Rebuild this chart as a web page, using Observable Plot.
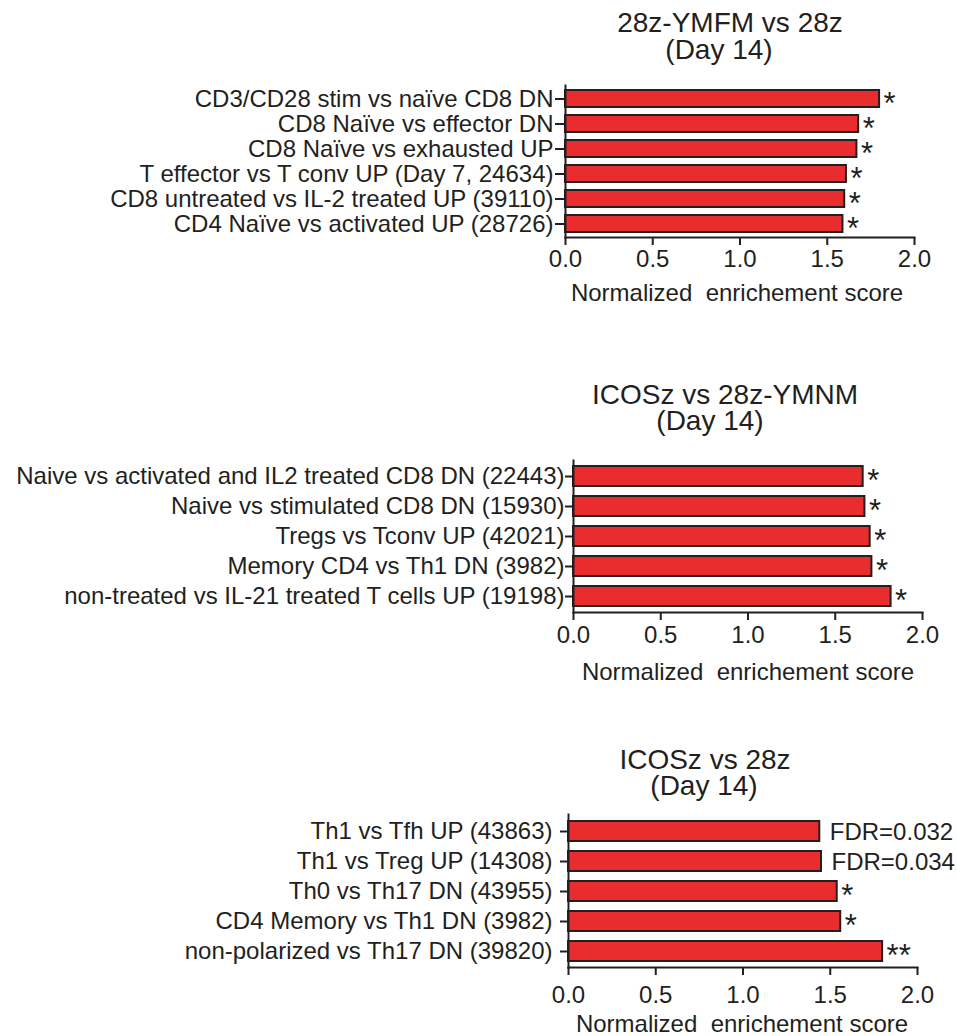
<!DOCTYPE html>
<html>
<head>
<meta charset="utf-8">
<script src="https://cdn.jsdelivr.net/npm/d3@7"></script>
<script src="https://cdn.jsdelivr.net/npm/@observablehq/plot@0.6"></script>
<style>
  html, body { margin: 0; padding: 0; background: #fff; }
  #root { position: relative; width: 957px; height: 1036px; overflow: hidden; font-family: "Liberation Sans", Arial, Helvetica, sans-serif; color: #231f20; }
  .ttl { position: absolute; font-size: 28px; line-height: 28px; white-space: nowrap; transform: translateX(-50%); }
  .pnl { position: absolute; left: 0; }
  svg text { white-space: pre; }
</style>
</head>
<body>
<div id="root"></div>
<script>
// ---- data ----
const titles = ["28z-YMFM vs 28z", "ICOSz vs 28z-YMNM", "ICOSz vs 28z"];
const subtitle = "(Day 14)";
const xLabel = "Normalized  enrichement score";
const xTicks = [0, 0.5, 1, 1.5, 2];

const categories1 = [
  "CD3/CD28 stim vs naïve CD8 DN",
  "CD8 Naïve vs effector DN",
  "CD8 Naïve vs exhausted UP",
  "T effector vs T conv UP (Day 7, 24634)",
  "CD8 untreated vs IL-2 treated UP (39110)",
  "CD4 Naïve vs activated UP (28726)"
];
const scores1 = [1.80, 1.68, 1.67, 1.61, 1.60, 1.59];
const notes1 = ["*", "*", "*", "*", "*", "*"];

const categories2 = [
  "Naive vs activated and IL2 treated CD8 DN (22443)",
  "Naive vs stimulated CD8 DN (15930)",
  "Tregs vs Tconv UP (42021)",
  "Memory CD4 vs Th1 DN (3982)",
  "non-treated vs IL-21 treated T cells UP (19198)"
];
const scores2 = [1.66, 1.67, 1.70, 1.71, 1.82];
const notes2 = ["*", "*", "*", "*", "*"];

const categories3 = [
  "Th1 vs Tfh UP (43863)",
  "Th1 vs Treg UP (14308)",
  "Th0 vs Th17 DN (43955)",
  "CD4 Memory vs Th1 DN (3982)",
  "non-polarized vs Th17 DN (39820)"
];
const scores3 = [1.44, 1.45, 1.54, 1.56, 1.80];
const notes3 = ["FDR=0.032", "FDR=0.034", "*", "*", "**"];

// ---- layout / style ----
const FONT = '"Liberation Sans", Arial, Helvetica, sans-serif';
const INK = "#231f20";
const RED = "#e92d2f";

const layouts = [
  {cats: categories1, vals: scores1, notes: notes1, svgTop: 0,   height: 320, frameTop: 85,  frameBottom: 237, left: 565, right: 914,
   pi: 0.33, po: 0.17, yTick: 10, yPad: 2, xPad: 4, labelDy: 56, labelDx: -3,
   t1: {x: 730, base: 33}, t2: {x: 719, base: 60}},
  {cats: categories2, vals: scores2, notes: notes2, svgTop: 380, height: 320, frameTop: 460, frameBottom: 612, left: 573, right: 922,
   pi: 0.32, po: 0.16, yTick: 8, yPad: 1, xPad: 5, labelDy: 60, labelDx: 0,
   t1: {x: 725, base: 405}, t2: {x: 710, base: 431}},
  {cats: categories3, vals: scores3, notes: notes3, svgTop: 740, height: 296, frameTop: 814, frameBottom: 967, left: 568, right: 917,
   pi: 0.34, po: 0.18, yTick: 8, yPad: 8, xPad: 10, labelDy: 57, labelDx: -1,
   t1: {x: 705, base: 770}, t2: {x: 704, base: 796}}
];

const root = document.getElementById("root");

function addTitle(text, pos) {
  const d = document.createElement("div");
  d.className = "ttl";
  d.textContent = text;
  d.style.left = pos.x + "px";
  d.style.top = (pos.base - 23.7) + "px";
  root.appendChild(d);
}

layouts.forEach((L, i) => {
  const data = L.cats.map((c, k) => ({c, v: L.vals[k], n: L.notes[k]}));
  const stars = data.filter(d => d.n.startsWith("*"));
  const fdrs = data.filter(d => d.n.startsWith("FDR"));
  const chart = Plot.plot({
    width: 957,
    height: L.height,
    marginTop: L.frameTop - L.svgTop,
    marginBottom: L.svgTop + L.height - L.frameBottom,
    marginLeft: L.left,
    marginRight: 957 - L.right,
    style: {fontFamily: FONT, fontSize: "24px", color: INK, background: "transparent", overflow: "visible"},
    x: {domain: [0, 2]},
    y: {domain: L.cats, paddingInner: L.pi, paddingOuter: L.po},
    marks: [
      Plot.barX(data, {x: "v", y: "c", fill: RED, stroke: INK, strokeWidth: 2}),
      Plot.frame({anchor: "bottom", stroke: INK, strokeWidth: 2}),
      Plot.frame({anchor: "left", stroke: INK, strokeWidth: 2}),
      Plot.axisX({ticks: xTicks, tickFormat: d3.format(".1f"), tickSize: 8, tickPadding: L.xPad, strokeWidth: 2, label: null, fontSize: 24}),
      Plot.axisY({tickSize: L.yTick, tickPadding: L.yPad, strokeWidth: 2, label: null, fontSize: 24}),
      Plot.text(stars, {x: "v", y: "c", text: "n", textAnchor: "start", lineAnchor: "middle", dx: 4, dy: 5, fontSize: 31, fill: INK}),
      Plot.text(fdrs, {x: "v", y: "c", text: "n", textAnchor: "start", lineAnchor: "middle", dx: 10, dy: 1, fontSize: 24, fill: INK}),
      Plot.text([xLabel], {frameAnchor: "bottom", lineAnchor: "middle", text: d => d, dy: L.labelDy, dx: L.labelDx, fontSize: 24, fill: INK})
    ]
  });
  chart.classList.add("pnl");
  chart.style.top = L.svgTop + "px";
  root.appendChild(chart);
  addTitle(titles[i], L.t1);
  addTitle(subtitle, L.t2);
});
</script>
</body>
</html>
